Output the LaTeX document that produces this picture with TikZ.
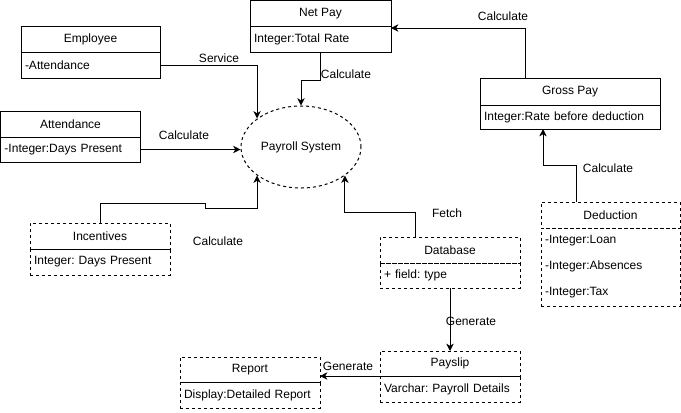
\documentclass[tikz,border=0pt]{standalone}
\usepackage{fontspec}
\setmainfont{Liberation Sans}
\frenchspacing
\usetikzlibrary{arrows.meta,shapes.geometric,calc}
\tikzset{
  base/.style={draw, line width=0.75pt, font=\fontsize{9}{11}\selectfont\frenchspacing, inner sep=0pt, outer sep=0pt},
  hdr/.style={base, align=center},
  bodybox/.style={base, inner xsep=3pt, align=left},
  dsh/.style={dash pattern=on 2.25pt off 2.25pt},
  tall/.style={font=\fontsize{9}{19.5}\selectfont},
  arr/.style={line width=0.75pt, -{Stealth[length=5.5pt,width=5.5pt,inset=1.6pt]}},
  lbl/.style={font=\fontsize{9}{11}\selectfont, inner sep=0pt},
}
\newcommand\umlcls[9]{%
  \pgfmathsetlengthmacro\clsw{#4*0.75pt}%
  \pgfmathsetlengthmacro\clstw{(#4-8)*0.75pt}%
  \pgfmathsetlengthmacro\clshh{#5*0.75pt}%
  \pgfmathsetlengthmacro\clsbh{#6*0.75pt}%
  \node[hdr,#9,minimum width=\clsw,minimum height=\clshh,anchor=north west] (#1) at (#2,#3) {#7};
  \node[bodybox,#9,text width=\clstw,minimum height=\clsbh,anchor=north west] (#1b) at (#1.south west) {#8};
}
\begin{document}
\begin{tikzpicture}[x=0.75pt,y=-0.75pt]
\useasboundingbox (0,0) rectangle (681,412);
% classes
\umlcls{emp}{21}{26}{139}{26}{26}{Employee}{-Attendance}{}
\umlcls{np}{250}{0.5}{141}{25.5}{26}{Net Pay}{Integer:Total Rate}{}
\umlcls{att}{0.5}{111}{140}{26}{25}{Attendance}{-Integer:Days Present}{}
\umlcls{gp}{480}{78}{180}{27}{24}{Gross Pay}{Integer:Rate before deduction}{}
\umlcls{inc}{30}{223}{140}{26}{26}{Incentives}{Integer: Days Present}{dsh}
\umlcls{db}{380}{237}{140}{26}{25}{Database}{+ field: type}{dsh}
\umlcls{ded}{541}{202}{139}{26}{78}{Deduction}{-Integer:Loan\\-Integer:Absences\\-Integer:Tax}{dsh,tall}
\umlcls{psl}{380}{351}{140}{25}{26}{Payslip}{Varchar: Payroll Details}{dsh}
\umlcls{rep}{180}{357}{140}{25}{26}{Report}{Display:Detailed Report}{dsh}
% central ellipse
\node[ellipse, draw, line width=0.75pt, dsh, minimum width=90pt, minimum height=61.5pt, inner sep=0pt, font=\fontsize{9}{11}\selectfont] (ps) at (301,147) {Payroll System};
% connectors
\draw[arr] (empb.east) -| (ps.147);
\draw[arr] (npb.south) -- ++(0,28) -| (ps.north);
\draw[arr] (attb.east) -- (attb.east -| ps.west);
\draw[arr] (inc.north) -- ++(0,-20) -| (205,208) -| (ps.213);
\draw[arr] ($(db.north west)+(35,0)$) -- ++(0,-25) -| (ps.327);
\draw[arr] ($(gp.north west)+(45,0)$) |- ($(npb.north east)+(0,2)$);
\draw[arr] ($(ded.north west)+(35,0)$) -- ++(0,-37) -| ($(gpb.south west)+(63,0)$);
\draw[arr] (dbb.south) -- (dbb.south |- psl.north);
\draw[arr] (psl.south west) -- (psl.south west -| rep.east);
% labels
\node[lbl] (l1) at (219,58) {Service};
\node[lbl] (l2) at (346,74) {Calculate};
\node[lbl] (l3) at (184,135) {Calculate};
\node[lbl] (l4) at (218,241) {Calculate};
\node[lbl] (l5) at (447,213) {Fetch};
\node[lbl] (l6) at (503,16) {Calculate};
\node[lbl] (l7) at (608,168) {Calculate};
\node[lbl] (l8) at (471,321) {Generate};
\node[lbl] (l9) at (348,366) {Generate};
\end{tikzpicture}
\end{document}
